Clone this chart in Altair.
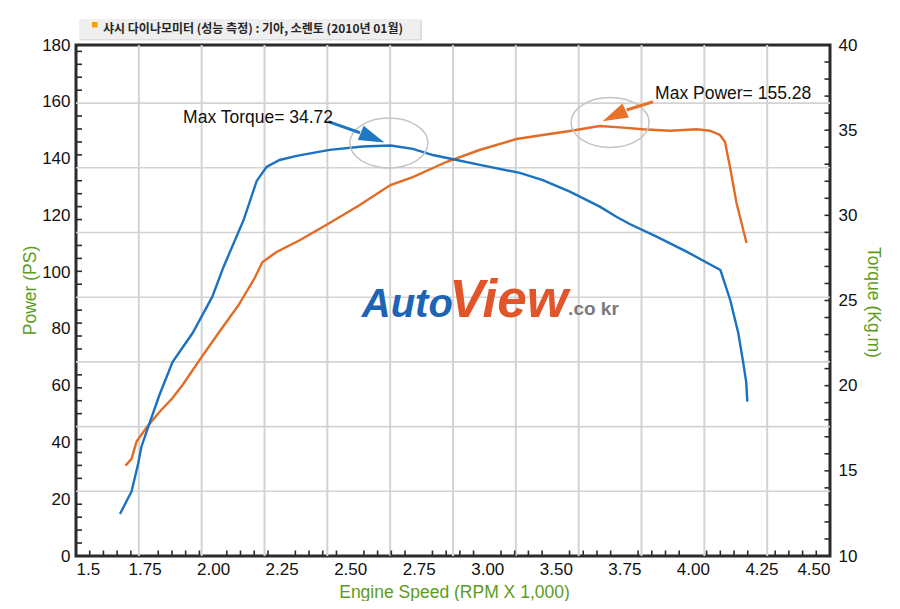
import json
import altair as alt
import pandas as pd

# ---- data ----
rpm_torque = [1.675, 1.721, 1.747, 1.760, 1.787, 1.832, 1.884, 1.964, 2.042, 2.087,
              2.167, 2.219, 2.258, 2.310, 2.378, 2.509, 2.641, 2.752, 2.840, 2.920,
              3.015, 3.107, 3.266, 3.357, 3.465, 3.584, 3.650, 3.703, 3.810, 3.929,
              4.064, 4.103, 4.135, 4.155, 4.167, 4.171]
torque = [12.47, 13.79, 15.40, 16.40, 17.57, 19.45, 21.39, 23.09, 25.21, 26.97,
          29.73, 32.02, 32.84, 33.25, 33.49, 33.84, 34.04, 34.10, 33.90, 33.54,
          33.25, 32.96, 32.49, 32.07, 31.39, 30.51, 29.92, 29.49, 28.75, 27.87,
          26.79, 25.03, 23.09, 21.33, 20.16, 19.06]

rpm_power = [1.697, 1.721, 1.741, 1.780, 1.832, 1.884, 1.924, 1.990, 2.067, 2.147,
             2.211, 2.242, 2.298, 2.392, 2.509, 2.629, 2.751, 2.840, 2.973, 3.105,
             3.252, 3.357, 3.465, 3.584, 3.664, 3.755, 3.863, 3.969, 4.022, 4.062,
             4.082, 4.102, 4.128, 4.168]
power = [31.84, 34.24, 40.30, 45.16, 50.72, 55.65, 60.23, 68.83, 78.55, 88.41,
         97.92, 103.56, 107.08, 111.31, 117.29, 123.63, 130.68, 133.48, 138.78, 143.01,
         146.88, 148.29, 149.70, 151.46, 151.0, 150.30, 149.81, 150.30, 149.81, 148.29,
         145.93, 137.13, 124.34, 110.25]

# x tick labels as printed (evenly spaced, "3.25" absent in the original)
x_labels = ["1.5", "1.75", "2.00", "2.25", "2.50", "2.75", "3.00",
            "3.50", "3.75", "4.00", "4.25", "4.50"]
x_grid = [1.75, 2.0, 2.25, 2.5, 2.75, 3.0, 3.25, 3.5, 3.75, 4.0, 4.25]
ps_ticks = [0, 20, 40, 60, 80, 100, 120, 140, 160, 180]
tq_ticks = [10, 15, 20, 25, 30, 35, 40]
GRID_STEP = 22.79        # PS between horizontal gridlines
grid_ps = [round(GRID_STEP * k, 2) for k in range(1, 8)]
minor_ps = [round(GRID_STEP / 5 * k, 2) for k in range(1, 40) if k % 5]
minor_idx = [round(0.2 * k, 1) for k in range(1, 55) if k % 5]
minor_tq = [10 + i for i in range(1, 30)]

title_text = "샤시 다이나모미터 (성능 측정) : 기아, 소렌토 (2010년 01월)"

# annotations (data coordinates)
ann_text = ["Max Torque= 34.72", "Max Power= 155.28"]
ann_x = [1.926, 3.804]
ann_y = [154.3, 162.7]
ell_x = [2.745, 3.625]
ell_y = [145.5, 152.7]
arrow_x = [2.504, 3.796]
arrow_y = [152.98, 160.02]
arrow_x2 = [2.630, 3.691]
arrow_y2 = [149.10, 157.10]
head_x = [2.680, 3.641]
head_y = [147.34, 155.05]
head_angle = [112, 245]
arrow_color = ["#1f78c4", "#e8722a"]

wm_text = ["Auto", "View"]
wm_x = [2.637, 2.985]
wm_y = [84.3, 84.3]
wm_color = ["#1e64b4", "#e2552a"]
wm_size = [40, 53]
wm_suffix = ".co kr"
wm_suffix_x = 3.458
wm_suffix_y = 84.8

W, H = 754, 511
FN = "Liberation Sans Narrow, Arial Narrow, Liberation Sans, sans-serif"
FS = "Liberation Sans, Arial, sans-serif"
GREEN = "#5c9c1c"
DARK = "#2b2b2b"
GRID = "#d3d3d3"

xs = alt.Scale(domain=[1.5, 4.5], nice=False, zero=False)
xi = alt.Scale(domain=[0, len(x_labels) - 1], nice=False, zero=False)
ps_s = alt.Scale(domain=[0, 180], nice=False, zero=False)
tq_s = alt.Scale(domain=[10, 40], nice=False, zero=False)

df_t = pd.DataFrame({"rpm": rpm_torque, "v": torque})
df_p = pd.DataFrame({"rpm": rpm_power, "v": power})
df_grid = pd.DataFrame({"g": grid_ps})
df_vgrid = pd.DataFrame({"g": x_grid})
df_ann = pd.DataFrame({"t": ann_text, "x": ann_x, "y": ann_y})
df_ell = pd.DataFrame({"x": ell_x, "y": ell_y})
df_arr = pd.DataFrame({"x": arrow_x, "y": arrow_y, "x2": arrow_x2, "y2": arrow_y2,
                       "hx": head_x, "hy": head_y, "a": head_angle, "c": arrow_color})
df_wm = pd.DataFrame({"t": wm_text, "x": wm_x, "y": wm_y, "c": wm_color, "s": wm_size})
df_wm2 = pd.DataFrame({"t": [wm_suffix], "x": [wm_suffix_x], "y": [wm_suffix_y]})
df_mx = pd.DataFrame({"x": minor_idx})
df_mp = pd.DataFrame({"y": minor_ps})
df_mt = pd.DataFrame({"y": minor_tq})
one = pd.DataFrame({"t": [title_text]})

hgrid = alt.Chart(df_grid).mark_rule(color=GRID, strokeWidth=1.6).encode(
    y=alt.Y("g:Q", scale=ps_s, axis=None))
vgrid = alt.Chart(df_vgrid).mark_rule(color=GRID, strokeWidth=2).encode(
    x=alt.X("g:Q", scale=xs, axis=None))

power_line = alt.Chart(df_p).mark_line(color="#e36c24", strokeWidth=2.4).encode(
    x=alt.X("rpm:Q", scale=xs, axis=None),
    y=alt.Y("v:Q", scale=ps_s,
            axis=alt.Axis(orient="left", values=ps_ticks, grid=False, domain=False,
                          ticks=False, tickSize=0, labelPadding=6,
                          labelFont=FN, labelFontSize=17, labelColor="#111",
                          title="Power (PS)", titleFont=FS, titleFontSize=17.5,
                          titleFontWeight="normal", titleColor=GREEN, titleX=-46, titleY=245,
                          titleAngle=270, titleBaseline="middle")),
)

torque_line = alt.Chart(df_t).mark_line(color="#1a72c0", strokeWidth=2.4).encode(
    x=alt.X("rpm:Q", scale=xs, axis=None),
    y=alt.Y("v:Q", scale=tq_s,
            axis=alt.Axis(orient="right", values=tq_ticks, grid=False, domain=False,
                          ticks=False, tickSize=0, labelPadding=8,
                          labelFont=FN, labelFontSize=17, labelColor="#111",
                          title="Torque (Kg.m)", titleFont=FS, titleFontSize=17.5,
                          titleFontWeight="normal", titleColor=GREEN, titleX=42, titleY=257,
                          titleAngle=90, titleBaseline="middle")),
)

ELLIPSE = "M-1,0A1,0.64,0,1,0,1,0A1,0.64,0,1,0,-1,0Z"
ellipses = alt.Chart(df_ell).mark_point(shape=ELLIPSE, size=6084, filled=False,
                                        color="#c4c4c4", strokeWidth=1.5, opacity=1).encode(
    x=alt.X("x:Q", scale=xs, axis=None), y=alt.Y("y:Q", scale=ps_s, axis=None))

watermark = alt.Chart(df_wm).mark_text(align="left", baseline="alphabetic", font=FS,
                                       fontWeight="bold", fontStyle="italic").encode(
    x=alt.X("x:Q", scale=xs, axis=None), y=alt.Y("y:Q", scale=ps_s, axis=None),
    text="t:N", color=alt.Color("c:N", scale=None),
    size=alt.Size("s:Q", scale=None))

watermark2 = alt.Chart(df_wm2).mark_text(align="left", baseline="alphabetic", font=FS,
                                         fontWeight="bold", fontSize=19,
                                         color="#7a7a7a").encode(
    x=alt.X("x:Q", scale=xs, axis=None), y=alt.Y("y:Q", scale=ps_s, axis=None),
    text="t:N")

arrows = alt.Chart(df_arr).mark_rule(strokeWidth=3).encode(
    x=alt.X("x:Q", scale=xs, axis=None), y=alt.Y("y:Q", scale=ps_s, axis=None),
    x2="x2:Q", y2="y2:Q", color=alt.Color("c:N", scale=None))

HEAD = "M0,-1L0.6,1L-0.6,1Z"
heads = alt.Chart(df_arr).mark_point(shape=HEAD, size=650, filled=True, opacity=1).encode(
    x=alt.X("hx:Q", scale=xs, axis=None), y=alt.Y("hy:Q", scale=ps_s, axis=None),
    angle=alt.Angle("a:Q", scale=None), color=alt.Color("c:N", scale=None))

ann = alt.Chart(df_ann).mark_text(align="left", baseline="middle", font=FN,
                                  fontSize=17.5, color="#111").encode(
    x=alt.X("x:Q", scale=xs, axis=None), y=alt.Y("y:Q", scale=ps_s, axis=None), text="t:N")

ticks_left = alt.Chart(df_mp).mark_rule(color=DARK, strokeWidth=1.6).encode(
    y=alt.Y("y:Q", scale=ps_s, axis=None), x=alt.value(0), x2=alt.value(6))
ticks_right = alt.Chart(df_mt).mark_rule(color=DARK, strokeWidth=1.6).encode(
    y=alt.Y("y:Q", scale=tq_s, axis=None), x=alt.value(W - 5.5), x2=alt.value(W))

label_expr = json.dumps(x_labels).replace('"', "'") + "[round(datum.value)]"
ticks_bottom = alt.Chart(df_mx).mark_rule(color=DARK, strokeWidth=1.6).encode(
    x=alt.X("x:Q", scale=xi,
            axis=alt.Axis(orient="bottom", values=list(range(len(x_labels))),
                          grid=False, domain=False, ticks=False, tickSize=0,
                          labelPadding=5, labelExpr=label_expr,
                          labelFont=FN, labelFontSize=17, labelColor="#111",
                          title="Engine Speed (RPM X 1,000)", titleFont=FS,
                          titleFontSize=17.5, titleFontWeight="normal", titleColor=GREEN,
                          titleX=378, titleY=36, titleBaseline="middle")),
    y=alt.value(H - 5.5), y2=alt.value(H))

title_shadow = alt.Chart(one).mark_rect(color="#dedede").encode(
    x=alt.value(4), x2=alt.value(346), y=alt.value(-25), y2=alt.value(-4.5))
title_box = alt.Chart(one).mark_rect(color="#efefef").encode(
    x=alt.value(3), x2=alt.value(344), y=alt.value(-26), y2=alt.value(-6))
title_sq = alt.Chart(one).mark_rect(color="#f2a100").encode(
    x=alt.value(16), x2=alt.value(21.5), y=alt.value(-23), y2=alt.value(-17.5))
title_txt = alt.Chart(one).mark_text(align="left", baseline="middle",
                                     font="Noto Sans CJK KR", fontSize=12,
                                     fontWeight="bold", color="#262626").encode(
    x=alt.value(27), y=alt.value(-16), text="t:N")

chart = alt.layer(
    hgrid, vgrid, power_line, torque_line, ellipses, watermark, watermark2, arrows, heads,
    ann, ticks_left, ticks_right, ticks_bottom,
    title_shadow, title_box, title_sq, title_txt,
).resolve_scale(x="independent", y="independent").resolve_axis(
    x="independent", y="independent").properties(
    width=W, height=H,
    autosize=alt.AutoSizeParams(type="none"),
    padding={"left": 68, "top": 37, "right": 60, "bottom": 45},
    background="white",
).configure_view(stroke=DARK, strokeWidth=3)

chart.save("out.html", embed_options={"renderer": "svg", "actions": False})
